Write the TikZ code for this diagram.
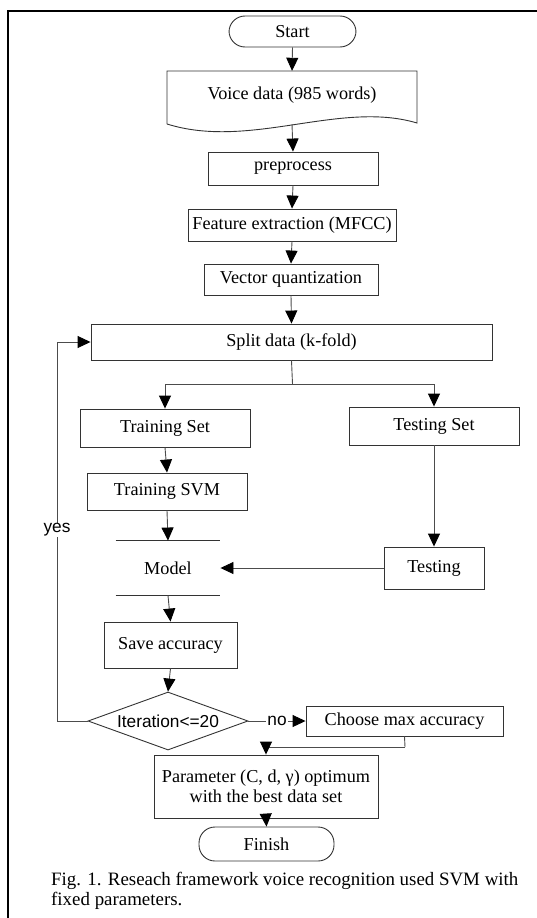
\documentclass[tikz,border=0pt]{standalone}
\usepackage{fontspec}
\setmainfont{Liberation Serif}
\newfontfamily\arialfont{Liberation Sans}
\usetikzlibrary{arrows.meta,shapes.geometric}
\begin{document}
\begin{tikzpicture}[x=1pt,y=-1pt,
  box/.style={draw=black!80,line width=0.9pt,rectangle,inner sep=0pt,font=\fontsize{18.2}{19.5}\selectfont},
  term/.style={box,rounded corners=16pt},
  conn/.style={draw=black!70,line width=0.9pt,-{Triangle[length=13pt,width=12pt,color=black]}},
  plain/.style={draw=black!70,line width=0.9pt},
  lbl/.style={font=\arialfont\fontsize{17.3}{19}\selectfont,fill=white,inner sep=1pt}]
\useasboundingbox (0,0) rectangle (537,918);
% frame
\draw[line width=2pt] (8,918) -- (8,11) -- (537,11);
% nodes
\node[term,minimum width=127pt,minimum height=31pt] (start) at (292.5,31.5) {Start};
\node[rectangle,inner sep=0pt,minimum width=250pt,minimum height=53pt] (voice) at (292,97.5) {};
\draw[draw=black!80,line width=0.9pt] (167,124) -- (167,71) -- (417,71) -- (417,123)
  .. controls (340,100) and (250,150) .. (167,124);
\node[font=\fontsize{18.2}{19.5}\selectfont] (voicetxt) at (292,95) {Voice data (985 words)};
\node[box,minimum width=170pt,minimum height=33pt] (pre) at (293,168.5) {preprocess};
\node[box,minimum width=208pt,minimum height=32pt] (feat) at (292,225) {Feature extraction (MFCC)};
\node[box,minimum width=174pt,minimum height=31pt] (vq) at (291,279.5) {Vector quantization};
\node[box,minimum width=401pt,minimum height=36pt] (split) at (291.5,342) {Split data (k-fold)};
\node[box,minimum width=170pt,minimum height=38pt] (train) at (165,428) {Training Set};
\node[box,minimum width=170pt,minimum height=38pt] (test) at (434,426) {Testing Set};
\node[box,minimum width=160pt,minimum height=37pt] (tsvm) at (167,491.5) {Training SVM};
\node[box,draw=none,minimum width=104pt,minimum height=54pt] (model) at (168,568) {Model};
\draw[draw=black!80,line width=0.9pt] (model.north west) -- (model.north east);
\draw[draw=black!80,line width=0.9pt] (model.south west) -- (model.south east);
\node[box,minimum width=100pt,minimum height=42pt] (testing) at (434,568) {Testing};
\node[box,minimum width=133pt,minimum height=46pt] (save) at (170.5,645) {Save accuracy};
\node[box,diamond,aspect=2.76,minimum width=160pt,minimum height=58pt,font=\arialfont\fontsize{17.3}{19}\selectfont] (iter) at (168,721) {Iteration<=20};
\node[box,minimum width=197pt,minimum height=30pt] (choose) at (404.5,721) {Choose max accuracy};
\node[box,minimum width=224pt,minimum height=63pt,align=center] (param) at (266,786.5) {Parameter (C, d, γ) optimum\\with the best data set};
\node[term,minimum width=135pt,minimum height=34pt] (finish) at (266.5,844) {Finish};
\node[anchor=north west,align=left,inner sep=0pt,font=\fontsize{18.9}{19.5}\selectfont] (cap) at (51,872) {Fig. 1. Reseach framework voice recognition used SVM with\\fixed parameters.};
% connectors
\draw[conn] (start.south) -- (voice.north);
\draw[conn] (voice.south) -- (pre.north);
\draw[conn] (pre.south) -- (feat.north);
\draw[conn] (feat.south) -- (vq.north);
\draw[conn] (vq.south) -- (split.north);
\coordinate (br) at (292.5,384);
\draw[plain] (split.south) -- (br);
\draw[conn] (br) -| (train.north);
\draw[conn] (br) -| (test.north);
\draw[conn] (train.south) -- (tsvm.north);
\draw[conn] (tsvm.south) -- (model.north);
\draw[conn] (test.south) -- (testing.north);
\draw[conn] (testing.west) -- (model.east);
\draw[conn] (model.south) -- (save.north);
\draw[conn] (save.south) -- (iter.north);
\draw[conn] (iter.east) -- node[lbl] {no} (choose.west);
\coordinate (cb) at (405,747);
\draw[plain] (choose.south) -- (cb);
\draw[conn] (cb) -| (param.north);
\draw[conn] (param.south) -- (finish.north);
\coordinate (yl) at (57,721);
\draw[conn] (iter.west) -- (yl) |- (split.west);
\node[lbl] (yes) at (57,530) {yes};
\end{tikzpicture}
\end{document}
